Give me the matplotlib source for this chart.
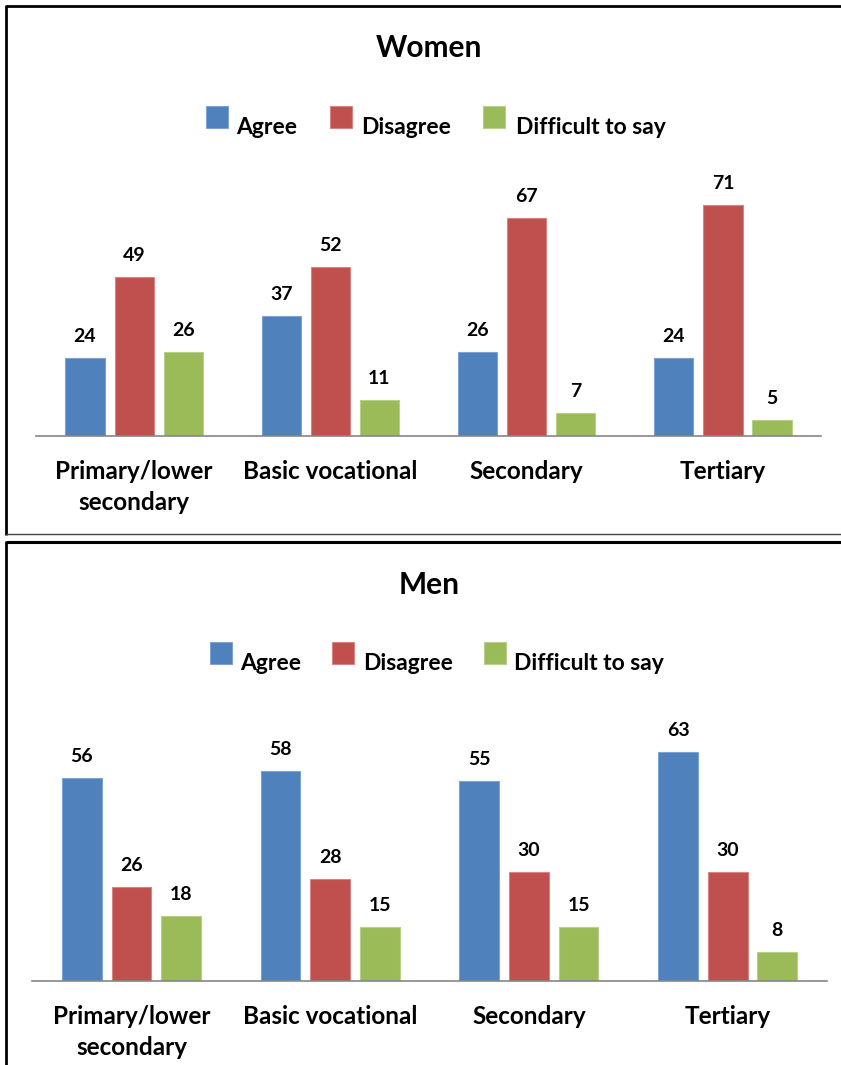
import matplotlib
matplotlib.use("Agg")
import matplotlib.pyplot as plt
from matplotlib.lines import Line2D
from matplotlib.patches import Rectangle
import numpy as np

# ---- data ----
categories = ["Primary/lower\nsecondary", "Basic vocational", "Secondary", "Tertiary"]
series_names = ["Agree", "Disagree", "Difficult to say"]
women_agree = [24, 37, 26, 24]
women_disagree = [49, 52, 67, 71]
women_difficult = [26, 11, 7, 5]
men_agree = [56, 58, 55, 63]
men_disagree = [26, 28, 30, 30]
men_difficult = [18, 15, 15, 8]

colors = ["#4F81BD", "#C0504D", "#9BBB59"]
edge_colors = ["#7FA3D0", "#D88482", "#B7CF87"]

W, H = 841, 1065
DPI = 100
plt.rcParams["font.family"] = ["Lato", "DejaVu Sans"]
fig = plt.figure(figsize=(W / DPI, H / DPI), dpi=DPI)


def fx(px):
    return px / W


def fy(py):
    return 1 - py / H


def panel(left_px, right_px, base_px, top_px, ymax, title, title_y, legend_y,
          legend_x, text_x, groups):
    ax = fig.add_axes([fx(left_px), fy(base_px), fx(right_px - left_px),
                       (base_px - top_px) / H])
    x = np.arange(len(categories))
    width = 0.2
    offsets = [-0.25, 0.0, 0.25]
    for vals, off, c, ec in zip(groups, offsets, colors, edge_colors):
        bars = ax.bar(x + off, vals, width, color=c, edgecolor=ec, linewidth=0.8)
        for b, v in zip(bars, vals):
            ax.annotate(str(v), (b.get_x() + b.get_width() / 2, v),
                        xytext=(0, 11.5), textcoords="offset points",
                        ha="center", va="baseline", fontsize=14,
                        fontweight="bold", color="black")
    ax.set_xlim(-0.5, 3.5)
    ax.set_ylim(0, ymax)
    ax.set_yticks([])
    ax.set_xticks(x)
    ax.set_xticklabels(categories, fontsize=17.5, fontweight="bold",
                       linespacing=1.42)
    ax.tick_params(axis="x", length=0, pad=17)
    for s in ["top", "right", "left"]:
        ax.spines[s].set_visible(False)
    ax.spines["bottom"].set_color("#868686")
    ax.spines["bottom"].set_linewidth(1.2)
    ax.patch.set_alpha(0)

    fig.text(fx(429), fy(title_y), title, ha="center", va="center",
             fontsize=21.5, fontweight="bold")
    # legend: square swatches sitting above the text baseline
    sq = 22
    for lx, tx, c, ec, name in zip(legend_x, text_x, colors, edge_colors,
                                   series_names):
        fig.add_artist(Rectangle((fx(lx), fy(legend_y + sq)), fx(sq), sq / H,
                                 transform=fig.transFigure, facecolor=c,
                                 edgecolor=ec, linewidth=0.8))
        fig.text(fx(tx), fy(legend_y + sq + 6), name, ha="left",
                 va="baseline", fontsize=16.5, fontweight="bold")
    return ax


panel(36, 821, 436, 176, 80, "Women", 48, 106, [206, 330, 483],
      [236, 361, 516], [women_agree, women_disagree, women_difficult])
panel(32, 827, 981, 727, 70, "Men", 585, 642, [210, 332, 484],
      [240, 363, 514], [men_agree, men_disagree, men_difficult])


def fig_line(x0, y0, x1, y1, color="black", lw=2.0):
    fig.add_artist(Line2D([fx(x0), fx(x1)], [fy(y0), fy(y1)],
                          transform=fig.transFigure, color=color,
                          linewidth=lw, solid_capstyle="butt"))


# frames around the two panels
fig_line(6, 6, 841, 6, lw=2.0)
fig_line(6, 5, 6, 535, lw=2.0)
fig_line(6, 534, 841, 534, color="#444444", lw=1.0)
fig_line(6, 542, 841, 542, lw=2.2)
fig_line(6, 541, 6, 1065, lw=2.0)

fig.savefig("out.png", dpi=DPI)
